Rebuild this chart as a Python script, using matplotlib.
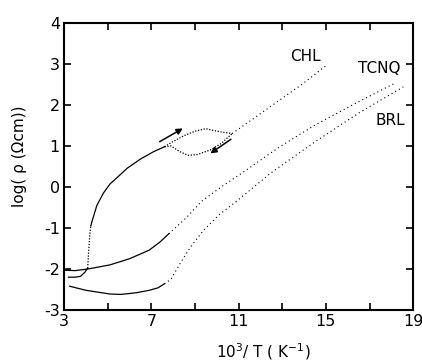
import matplotlib
matplotlib.use("Agg")
import matplotlib.pyplot as plt

# TCNQ
tcnq_x_solid = [3.0, 3.5, 4.1, 5.1, 6.0, 6.9, 7.4, 7.8]
tcnq_y_solid = [-2.03, -2.04, -2.0, -1.9, -1.75, -1.54, -1.34, -1.14]
tcnq_x_dot = [7.8, 8.6, 9.3, 10.2, 11.1, 12.8, 14.5, 16.4, 18.2]
tcnq_y_dot = [-1.14, -0.75, -0.35, 0.0, 0.32, 0.95, 1.51, 2.05, 2.54]

# CHL
chl_x_low = [3.2, 3.5, 3.75, 3.95, 4.08]
chl_y_low = [-2.2, -2.2, -2.18, -2.08, -1.98]
chl_x_rise = [4.08, 4.12, 4.17, 4.22]
chl_y_rise = [-1.98, -1.6, -1.2, -0.95]
chl_x_solid = [4.22, 4.3, 4.5, 4.8, 5.1, 5.9, 6.5, 7.1, 7.6]
chl_y_solid = [-0.95, -0.8, -0.45, -0.15, 0.07, 0.46, 0.68, 0.86, 0.98]
chl_x_up = [7.6, 7.9, 8.5, 9.0, 9.5, 10.0, 10.7]
chl_y_up = [0.98, 1.08, 1.25, 1.36, 1.42, 1.36, 1.3]
chl_x_down = [7.6, 7.9, 8.3, 8.7, 9.1, 9.7, 10.2, 10.7]
chl_y_down = [0.98, 1.0, 0.86, 0.77, 0.79, 0.9, 1.06, 1.3]
chl_x_tail = [10.7, 11.5, 12.7, 13.9, 15.06]
chl_y_tail = [1.3, 1.6, 2.05, 2.5, 2.98]

# BRL
brl_x_solid = [3.25, 4.0, 5.1, 5.6, 6.3, 6.9, 7.3, 7.6]
brl_y_solid = [-2.42, -2.52, -2.61, -2.62, -2.58, -2.52, -2.46, -2.36]
brl_x_dot = [7.6, 7.9, 8.3, 8.8, 9.4, 10.1, 10.9, 12.5, 14.5, 16.5, 18.55]
brl_y_dot = [-2.36, -2.25, -1.88, -1.46, -1.05, -0.68, -0.35, 0.35, 1.10, 1.8, 2.44]

x_ticks = [3, 5, 7, 9, 11, 13, 15, 17, 19]
x_labels = ["3", "", "7", "", "11", "", "15", "", "19"]
y_ticks = [-3, -2, -1, 0, 1, 2, 3, 4]

plt.rcParams["font.family"] = "DejaVu Sans"
plt.rcParams["axes.unicode_minus"] = False

fig = plt.figure(figsize=(4.22, 3.63), dpi=100)
ax = fig.add_axes([0.152, 0.146, 0.827, 0.791])

SOLID = dict(color="black", lw=0.9)
DOT = dict(color="black", lw=0.8, linestyle=(0, (1, 2.8)))
DENSE = dict(color="black", lw=0.9, linestyle=(0, (1, 1.3)))

ax.plot(tcnq_x_solid, tcnq_y_solid, **SOLID)
ax.plot(tcnq_x_dot, tcnq_y_dot, **DOT)

ax.plot(chl_x_low, chl_y_low, **SOLID)
ax.plot(chl_x_rise, chl_y_rise, **DENSE)
ax.plot(chl_x_solid, chl_y_solid, **SOLID)
ax.plot(chl_x_up, chl_y_up, **DENSE)
ax.plot(chl_x_down, chl_y_down, **DENSE)
ax.plot(chl_x_tail, chl_y_tail, **DOT)

ax.plot(brl_x_solid, brl_y_solid, **SOLID)
ax.plot(brl_x_dot, brl_y_dot, **DOT)

arrow = dict(arrowstyle="-|>", color="black", lw=1.1, mutation_scale=9)
ax.annotate("", xy=(8.55, 1.46), xytext=(7.27, 1.07), arrowprops=arrow)
ax.annotate("", xy=(9.6, 0.78), xytext=(10.75, 1.2), arrowprops=arrow)

ax.text(14.06, 3.17, "CHL", fontsize=11, ha="center", va="center")
ax.text(17.45, 2.88, "TCNQ", fontsize=11, ha="center", va="center")
ax.text(17.95, 1.61, "BRL", fontsize=11, ha="center", va="center")

ax.set_xlim(3, 19)
ax.set_ylim(-3, 4)
ax.set_xticks(x_ticks)
ax.set_xticklabels(x_labels)
ax.set_yticks(y_ticks)
ax.tick_params(direction="in", length=5, width=1.2, top=True, right=True,
               labelsize=11.5, pad=3)
for s in ax.spines.values():
    s.set_linewidth(1.5)

fig.text(0.047, 0.57, "log( ρ (Ωcm))", rotation=90, fontsize=11,
         ha="center", va="center")
fig.text(0.624, 0.03, "10$^3$/ T ( K$^{-1}$)", fontsize=11,
         ha="center", va="center")

fig.savefig("out.png", dpi=100)
